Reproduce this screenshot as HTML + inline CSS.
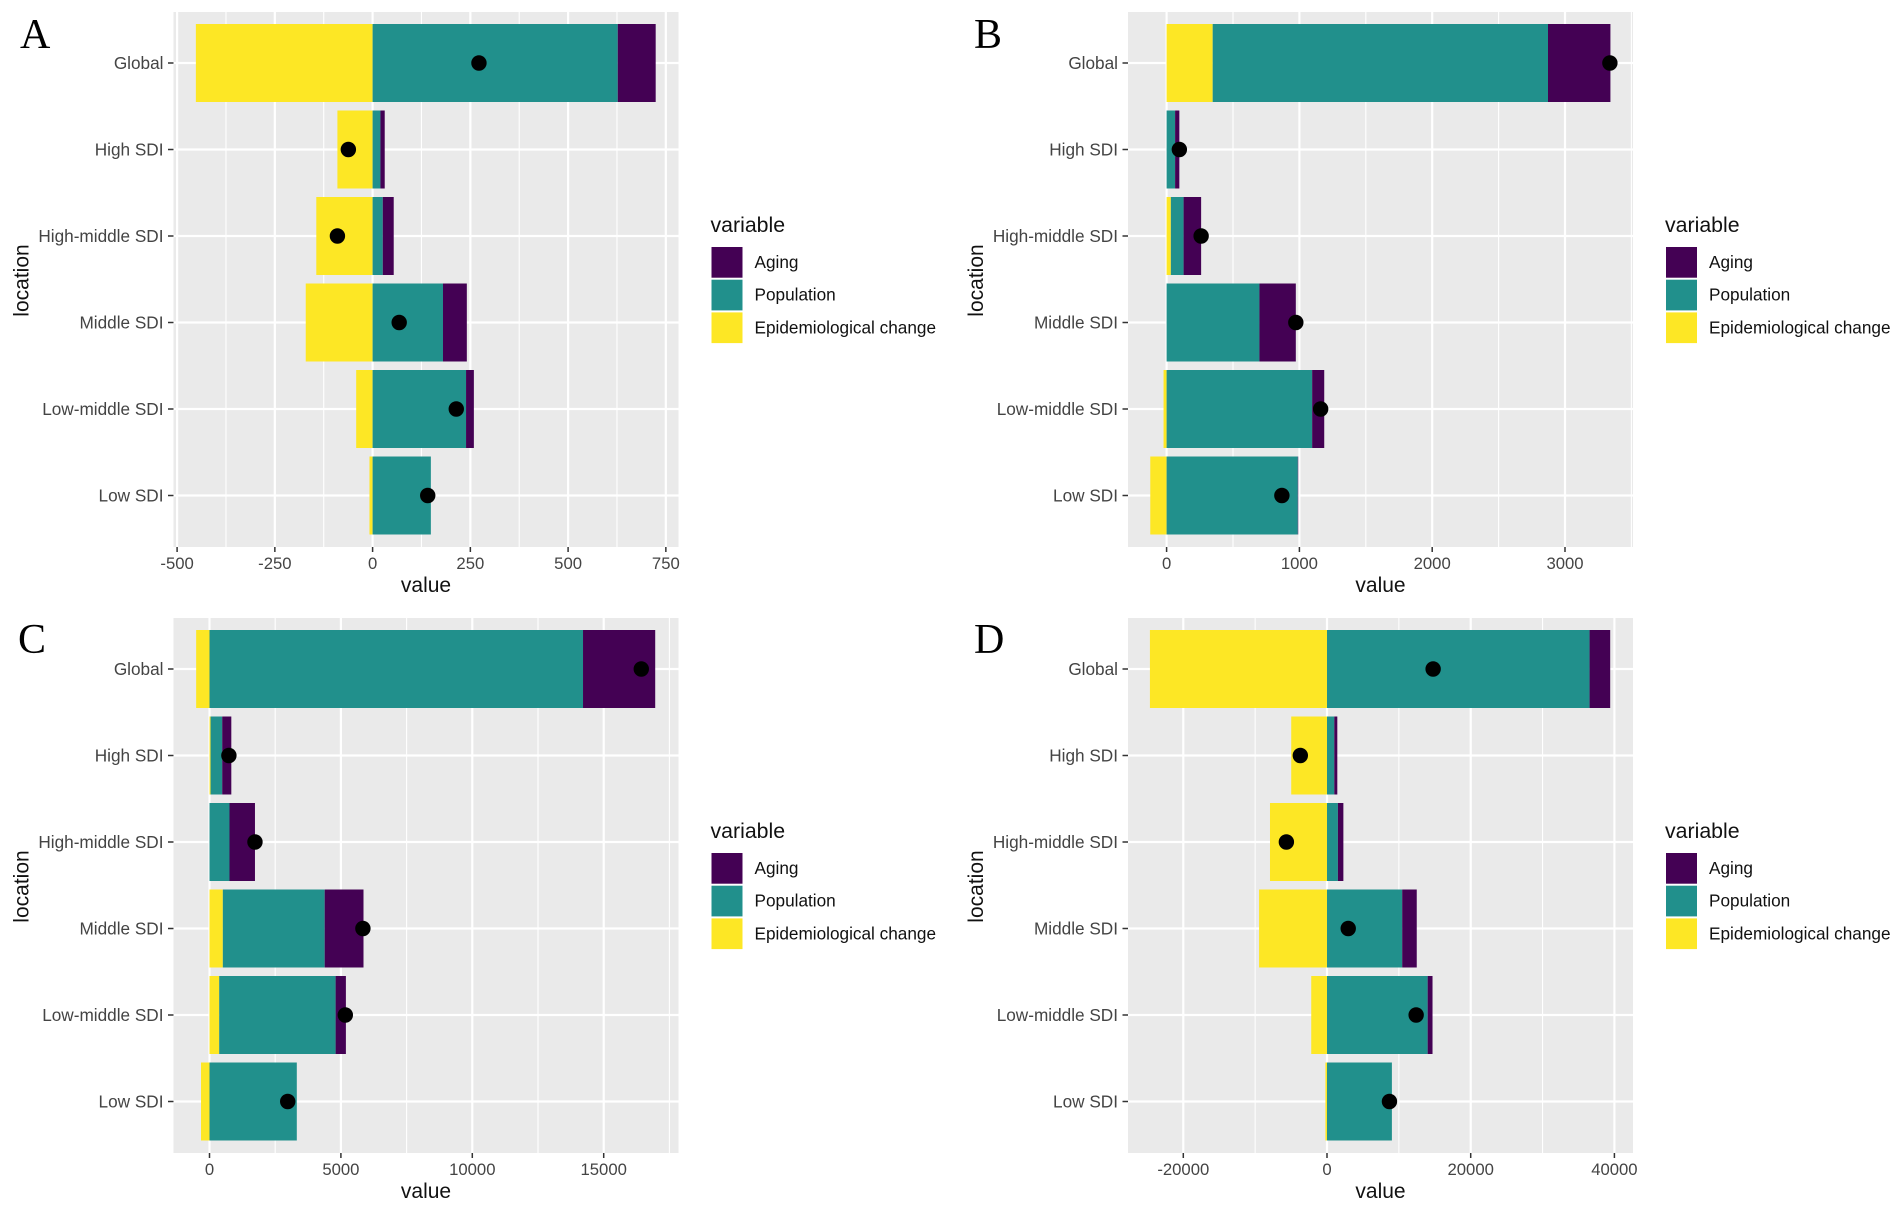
<!DOCTYPE html>
<html lang="en">
<head>
<meta charset="utf-8">
<title>Decomposition of change by SDI location</title>
<style>
  html, body { margin: 0; padding: 0; background: #fff; }
  body { width: 1902px; height: 1213px; overflow: hidden; }
  svg { display: block; font-family: "Liberation Sans", sans-serif; filter: blur(0.35px); }
</style>
</head>
<body>
<svg id="figure" xmlns="http://www.w3.org/2000/svg" width="1902" height="1213" viewBox="0 0 1902 1213"></svg>
<script>
// ---- Data ----
const categories = ["Global", "High SDI", "High-middle SDI", "Middle SDI", "Low-middle SDI", "Low SDI"];
const seriesNames = ["Aging", "Population", "Epidemiological change"];

const agingA = [97, 11, 28, 61, 20, 0];
const populationA = [627, 20, 26, 180, 239, 149];
const epiA = [-452, -90, -144, -171, -42, -8];
const totalA = [272, -62, -90, 68, 214, 141];
const ticksA = [-500, -250, 0, 250, 500, 750];
const tickLabelsA = ["-500", "-250", "0", "250", "500", "750"];

const agingB = [470, 32, 132, 274, 91, 3];
const populationB = [2525, 64, 96, 699, 1096, 988];
const epiB = [347, 0, 32, 0, -23, -123];
const totalB = [3338, 96, 260, 973, 1160, 868];
const ticksB = [0, 1000, 2000, 3000];
const tickLabelsB = ["0", "1000", "2000", "3000"];

const agingC = [2747, 346, 969, 1477, 391, 0];
const populationC = [14213, 444, 761, 3876, 4430, 3322];
const epiC = [-508, 40, 0, 507, 369, -323];
const totalC = [16430, 738, 1730, 5837, 5168, 2976];
const ticksC = [0, 5000, 10000, 15000];
const tickLabelsC = ["0", "5000", "10000", "15000"];

const agingD = [2870, 422, 760, 2025, 676, 0];
const populationD = [36545, 1013, 1519, 10466, 14010, 9031];
const epiD = [-24645, -4980, -7934, -9453, -2194, -220];
const totalD = [14770, -3714, -5655, 2954, 12407, 8693];
const ticksD = [-20000, 0, 20000, 40000];
const tickLabelsD = ["-20000", "0", "20000", "40000"];

// ---- Rendering ----
const SVG_NS = "http://www.w3.org/2000/svg";
const COLORS = { aging: "#440154", population: "#21908C", epi: "#FDE725" };
const svgRoot = document.getElementById("figure");

function make(parent, tag, attrs, text) {
  const el = document.createElementNS(SVG_NS, tag);
  for (const k in attrs) el.setAttribute(k, attrs[k]);
  if (text !== undefined) el.textContent = text;
  parent.appendChild(el);
  return el;
}

function drawPanel(cfg) {
  const L = cfg.left, T = cfg.top, W = 505, H = 535;
  const R = L + W, B = T + H;
  const xScale = v => cfg.zero + (v - 0) * cfg.pxPerUnit;
  const yScale = i => T + 51 + i * 86.5;
  const barH = 78;

  const g = make(svgRoot, "g", {});
  
  

  const letter = make(g, "text", { x: cfg.letterX, y: T + cfg.letterDy, "font-family": '"Liberation Serif", serif', "font-size": 42, fill: "#000" }, cfg.letter);
  
  

  const bg = make(g, "rect", { x: L, y: T, width: W, height: H, fill: "#EAEAEA" });
  
  

  // minor vertical grid
  const step = cfg.ticks[1] - cfg.ticks[0];
  const firstMinor = cfg.ticks[0] - step / 2;
  for (let n = 0; n <= cfg.ticks.length; n++) {
    const xv = xScale(firstMinor + n * step);
    if (xv <= L || xv >= R) continue;
    const minor = make(g, "line", { x1: xv, x2: xv, y1: T, y2: B, stroke: "#fff", "stroke-width": 1.1 });
    
    
  }
  // major vertical grid, ticks, labels
  cfg.ticks.forEach((t, i) => {
    const x = xScale(t);
    const grid = make(g, "line", { x1: x, x2: x, y1: T, y2: B, stroke: "#fff", "stroke-width": 2.2 });
    
    
    const tick = make(g, "line", { x1: x, x2: x, y1: B, y2: B + 5, stroke: "#333", "stroke-width": 1.5 });
    
    
    const lab = make(g, "text", { x: x, y: B + 22, "text-anchor": "middle", "font-size": 16.7, fill: "#444" }, cfg.tickLabels[i]);
    
    
  });
  // horizontal grid, ticks, labels
  categories.forEach((c, i) => {
    const y = yScale(i);
    const grid = make(g, "line", { x1: L, x2: R, y1: y, y2: y, stroke: "#fff", "stroke-width": 2.2 });
    
    
    const tick = make(g, "line", { x1: L - 5.5, x2: L, y1: y, y2: y, stroke: "#333", "stroke-width": 1.5 });
    
    
    const lab = make(g, "text", { x: L - 10, y: y + 6, "text-anchor": "end", "font-size": 17.2, fill: "#444" }, c);
    
    
  });
  // stacked bars
  categories.forEach((c, i) => {
    const y = yScale(i) - barH / 2;
    let pos = 0, neg = 0;
    [["epi", cfg.epi[i]], ["population", cfg.population[i]], ["aging", cfg.aging[i]]].forEach(pair => {
      const v = pair[1];
      let a, b;
      if (v >= 0) { a = pos; b = pos + v; pos = b; }
      else { b = neg; a = neg + v; neg = a; }
      const seg = make(g, "rect", { x: xScale(a), y: y, width: Math.max(0, xScale(b) - xScale(a)), height: barH, fill: COLORS[pair[0]] });
      
      
    });
  });
  // total points
  categories.forEach((c, i) => {
    const dot = make(g, "circle", { cx: xScale(cfg.total[i]), cy: yScale(i), r: 7.7, fill: "#000" });
    
    
  });
  // axis titles
  const xt = make(g, "text", { x: L + W / 2, y: B + 45, "text-anchor": "middle", "font-size": 21, fill: "#111" }, "value");
  
  
  const yMid = T + H / 2 + 1;
  const yx = L - 145;
  const yt = make(g, "text", { x: yx, y: yMid, "text-anchor": "middle", "font-size": 21, fill: "#111", transform: "rotate(-90 " + yx + " " + yMid + ")" }, "location");
  
  

  // legend
  const lx = R + 33;
  const lt = make(g, "text", { x: lx - 1, y: T + 220, "font-size": 21.3, fill: "#111" }, "variable");
  
  
  const swatchColors = [COLORS.aging, COLORS.population, COLORS.epi];
  seriesNames.forEach((s, i) => {
    const sy = T + 235 + i * 32.7;
    const sw = make(g, "rect", { x: lx, y: sy, width: 31, height: 30.7, fill: swatchColors[i] });
    
    
    const tx = make(g, "text", { x: lx + 43, y: sy + 21, "font-size": 17.2, fill: "#111" }, s);
    
    
  });
}

drawPanel({ letter: "A", left: 173.5, top: 12, letterX: 20, letterDy: 36, zero: 372.6, pxPerUnit: 0.391,
  ticks: ticksA, tickLabels: tickLabelsA, aging: agingA, population: populationA, epi: epiA, total: totalA });
drawPanel({ letter: "B", left: 1128, top: 12, letterX: 974, letterDy: 36, zero: 1166.6, pxPerUnit: 0.1328,
  ticks: ticksB, tickLabels: tickLabelsB, aging: agingB, population: populationB, epi: epiB, total: totalB });
drawPanel({ letter: "C", left: 173.5, top: 618, letterX: 18, letterDy: 35, zero: 209.5, pxPerUnit: 0.02628,
  ticks: ticksC, tickLabels: tickLabelsC, aging: agingC, population: populationC, epi: epiC, total: totalC });
drawPanel({ letter: "D", left: 1128, top: 618, letterX: 974, letterDy: 35, zero: 1327, pxPerUnit: 0.007185,
  ticks: ticksD, tickLabels: tickLabelsD, aging: agingD, population: populationD, epi: epiD, total: totalD });
</script>
</body>
</html>
